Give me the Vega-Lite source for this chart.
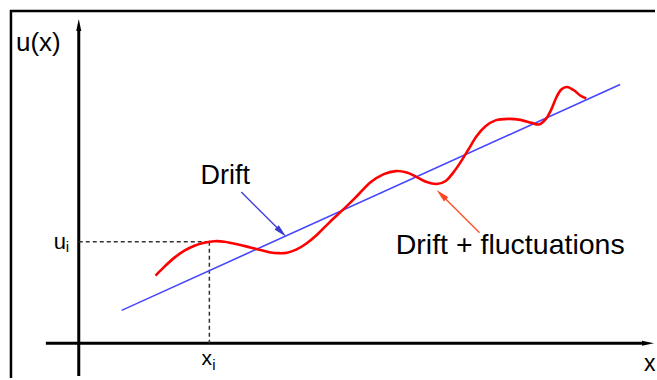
{
  "$schema": "https://vega.github.io/schema/vega-lite/v6.json",
  "width": 657,
  "height": 380,
  "padding": 0,
  "autosize": {"type": "fit", "contains": "padding"},
  "background": "white",
  "config": {"view": {"stroke": null}},
  "encoding": {
    "x": {"field": "x", "type": "quantitative", "scale": {"domain": [0, 657], "nice": false, "zero": false}, "axis": null},
    "y": {"field": "y", "type": "quantitative", "scale": {"domain": [0, 380], "nice": false, "zero": false}, "axis": null}
  },
  "layer": [
    {
      "data": {"values": [
        {"x": 11, "y": 0, "x2": 11, "y2": 370},
        {"x": 10, "y": 369, "x2": 657, "y2": 369}
      ]},
      "mark": {"type": "rule", "color": "black", "strokeWidth": 2.5},
      "encoding": {"x2": {"field": "x2"}, "y2": {"field": "y2"}}
    },
    {
      "data": {"values": [
        {"x": 79, "y": 2, "x2": 79, "y2": 350},
        {"x": 46, "y": 35, "x2": 645, "y2": 35}
      ]},
      "mark": {"type": "rule", "color": "black", "strokeWidth": 3},
      "encoding": {"x2": {"field": "x2"}, "y2": {"field": "y2"}}
    },
    {
      "data": {"values": [{"x": 79, "y": 361}]},
      "mark": {"type": "point", "shape": "M0,0L-0.42,2L0.42,2Z", "filled": true, "color": "black", "opacity": 1, "size": 144, "angle": 0}
    },
    {
      "data": {"values": [{"x": 656, "y": 35}]},
      "mark": {"type": "point", "shape": "M0,0L-0.42,2L0.42,2Z", "filled": true, "color": "black", "opacity": 1, "size": 144, "angle": 90}
    },
    {
      "data": {"values": [
        {"x": 79, "y": 137, "x2": 210, "y2": 137},
        {"x": 210, "y": 137, "x2": 210, "y2": 35}
      ]},
      "mark": {"type": "rule", "color": "#333333", "strokeWidth": 1.5, "strokeDash": [4, 3]},
      "encoding": {"x2": {"field": "x2"}, "y2": {"field": "y2"}}
    },
    {
      "data": {"values": [
        {"x": 122, "y": 68},
        {"x": 622, "y": 295}
      ]},
      "mark": {"type": "line", "color": "#4646ff", "strokeWidth": 1.6}
    },
    {
      "data": {"values": [
        {"x": 156, "y": 103}, {"x": 165, "y": 112}, {"x": 175, "y": 121}, {"x": 185, "y": 128},
        {"x": 195, "y": 133}, {"x": 205, "y": 136}, {"x": 215, "y": 137.5}, {"x": 225, "y": 137},
        {"x": 240, "y": 134}, {"x": 250, "y": 131.5}, {"x": 260, "y": 129}, {"x": 270, "y": 126.5},
        {"x": 280, "y": 125.5}, {"x": 288, "y": 126}, {"x": 297, "y": 129}, {"x": 307, "y": 135},
        {"x": 318, "y": 144}, {"x": 330, "y": 156}, {"x": 347, "y": 172}, {"x": 360, "y": 185},
        {"x": 372, "y": 197}, {"x": 385, "y": 205}, {"x": 397, "y": 208}, {"x": 408, "y": 206.5},
        {"x": 418, "y": 202}, {"x": 428, "y": 197}, {"x": 438, "y": 195}, {"x": 447, "y": 198},
        {"x": 455, "y": 207}, {"x": 462, "y": 217}, {"x": 470, "y": 230}, {"x": 478, "y": 243},
        {"x": 487, "y": 253}, {"x": 497, "y": 259}, {"x": 510, "y": 260.5}, {"x": 522, "y": 259.5},
        {"x": 533, "y": 256.5}, {"x": 541, "y": 255}, {"x": 548, "y": 261}, {"x": 553, "y": 270},
        {"x": 558, "y": 282}, {"x": 563, "y": 290}, {"x": 569, "y": 292.5}, {"x": 576, "y": 289},
        {"x": 582, "y": 284}, {"x": 588, "y": 281}
      ]},
      "mark": {"type": "line", "color": "#ff0000", "strokeWidth": 2.6, "interpolate": "cardinal"}
    },
    {
      "data": {"values": [{"x": 242, "y": 187, "x2": 279, "y2": 150}]},
      "mark": {"type": "rule", "color": "#4444dd", "strokeWidth": 1.5},
      "encoding": {"x2": {"field": "x2"}, "y2": {"field": "y2"}}
    },
    {
      "data": {"values": [{"x": 287, "y": 142}]},
      "mark": {"type": "point", "shape": "M0,0L-0.45,2L0.45,2Z", "filled": true, "color": "#3a3acc", "opacity": 1, "size": 180, "angle": 135}
    },
    {
      "data": {"values": [{"x": 481, "y": 146, "x2": 445, "y2": 182}]},
      "mark": {"type": "rule", "color": "#ff5533", "strokeWidth": 1.5},
      "encoding": {"x2": {"field": "x2"}, "y2": {"field": "y2"}}
    },
    {
      "data": {"values": [{"x": 438, "y": 189}]},
      "mark": {"type": "point", "shape": "M0,0L-0.45,2L0.45,2Z", "filled": true, "color": "#ff4422", "opacity": 1, "size": 180, "angle": 315}
    },
    {
      "data": {"values": [{"x": 16, "y": 329, "label": "u(x)"}]},
      "mark": {"type": "text", "align": "left", "baseline": "alphabetic", "font": "Liberation Sans", "fontSize": 26, "color": "black"},
      "encoding": {"text": {"field": "label"}}
    },
    {
      "data": {"values": [{"x": 201, "y": 195, "label": "Drift"}]},
      "mark": {"type": "text", "align": "left", "baseline": "alphabetic", "font": "Liberation Sans", "fontSize": 27, "color": "black"},
      "encoding": {"text": {"field": "label"}}
    },
    {
      "data": {"values": [{"x": 397, "y": 125, "label": "Drift + fluctuations"}]},
      "mark": {"type": "text", "align": "left", "baseline": "alphabetic", "font": "Liberation Sans", "fontSize": 28.5, "color": "black"},
      "encoding": {"text": {"field": "label"}}
    },
    {
      "data": {"values": [{"x": 54, "y": 130, "label": "u"}]},
      "mark": {"type": "text", "align": "left", "baseline": "alphabetic", "font": "Liberation Sans", "fontSize": 22, "color": "black"},
      "encoding": {"text": {"field": "label"}}
    },
    {
      "data": {"values": [{"x": 202, "y": 13, "label": "x"}]},
      "mark": {"type": "text", "align": "left", "baseline": "alphabetic", "font": "Liberation Sans", "fontSize": 21, "color": "black"},
      "encoding": {"text": {"field": "label"}}
    },
    {
      "data": {"values": [
        {"x": 66, "y": 127, "label": "i"},
        {"x": 213, "y": 8, "label": "i"}
      ]},
      "mark": {"type": "text", "align": "left", "baseline": "alphabetic", "font": "Liberation Sans", "fontSize": 15, "color": "black"},
      "encoding": {"text": {"field": "label"}}
    },
    {
      "data": {"values": [{"x": 646, "y": 7, "label": "x"}]},
      "mark": {"type": "text", "align": "left", "baseline": "alphabetic", "font": "Liberation Sans", "fontSize": 23, "color": "black"},
      "encoding": {"text": {"field": "label"}}
    }
  ]
}
